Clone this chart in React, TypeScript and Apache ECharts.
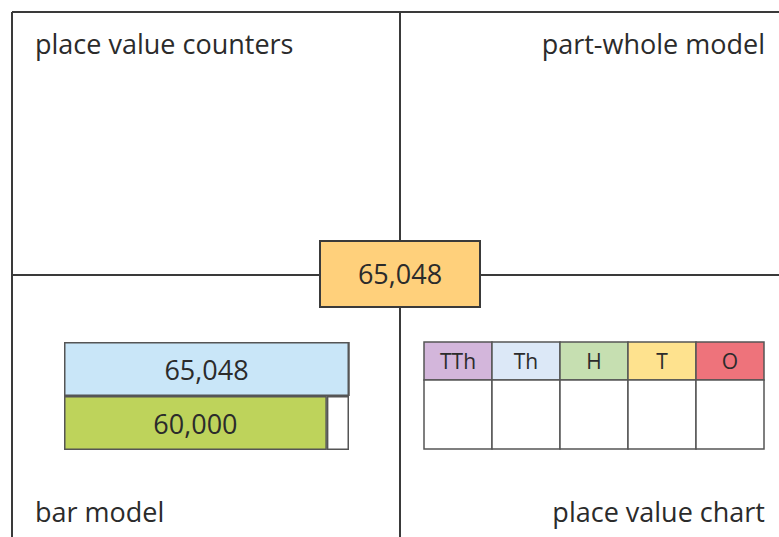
import React, { useEffect, useRef } from "react";
import * as echarts from "echarts";

const centerValue = "65,048";
const quadrantLabels = ["place value counters", "part-whole model", "bar model", "place value chart"];
const barRows = ["whole", "part"];
const barValues = [65048, 60000];
const barRemainder = [0, 5048];
const placeHeaders = ["TTh", "Th", "H", "T", "O"];
const placeColors = ["#D3B6DB", "#DCE8F7", "#C6DFB1", "#FEE28E", "#EE737B"];

const FONT = "'Open Sans', 'Noto Sans', sans-serif";
const INK = "#2b2b2b";
const LINE = "#3a3a3a";

export default function App() {
  const ref = useRef<HTMLDivElement>(null);
  useEffect(() => {
    if (!ref.current) return;
    const chart = echarts.init(ref.current, null, { renderer: "svg" });
    const fmt = (v: number) => v.toLocaleString("en-US");

    const graphics: any[] = [];
    const lw = 2;
    graphics.push(
      { type: "line", shape: { x1: 12, y1: 12, x2: 779, y2: 12 }, style: { stroke: LINE, lineWidth: lw } },
      { type: "line", shape: { x1: 12, y1: 12, x2: 12, y2: 537 }, style: { stroke: LINE, lineWidth: lw } },
      { type: "line", shape: { x1: 400, y1: 12, x2: 400, y2: 537 }, style: { stroke: LINE, lineWidth: lw } },
      { type: "line", shape: { x1: 12, y1: 275, x2: 779, y2: 275 }, style: { stroke: LINE, lineWidth: lw } }
    );
    graphics.push({
      type: "rect",
      shape: { x: 320, y: 241, width: 160, height: 66 },
      style: { fill: "#FFD07B", stroke: LINE, lineWidth: 2 },
      z: 10,
    });
    graphics.push({
      type: "text",
      x: 400,
      y: 273,
      style: { text: centerValue, fill: INK, font: `27px ${FONT}`, align: "center", verticalAlign: "middle" },
      z: 11,
    });
    const labelPos = [
      { x: 35, y: 43, align: "left" },
      { x: 765, y: 43, align: "right" },
      { x: 35, y: 511, align: "left" },
      { x: 765, y: 511, align: "right" },
    ];
    quadrantLabels.forEach((t, i) => {
      graphics.push({
        type: "text",
        x: labelPos[i].x,
        y: labelPos[i].y,
        style: { text: t, fill: INK, font: `27px ${FONT}`, align: labelPos[i].align, verticalAlign: "middle" },
      });
    });
    const px = 424, py = 342, cw = 68, hh = 38, bh = 69;
    placeHeaders.forEach((h, i) => {
      graphics.push({
        type: "rect",
        shape: { x: px + i * cw, y: py, width: cw, height: hh },
        style: { fill: placeColors[i], stroke: "#555", lineWidth: 1.5 },
      });
      graphics.push({
        type: "rect",
        shape: { x: px + i * cw, y: py + hh, width: cw, height: bh },
        style: { fill: "#ffffff", stroke: "#555", lineWidth: 1.5 },
      });
      graphics.push({
        type: "text",
        x: px + i * cw + cw / 2,
        y: py + hh / 2,
        style: { text: h, fill: INK, font: `21px ${FONT}`, align: "center", verticalAlign: "middle" },
      });
    });

    chart.setOption({
      animation: false,
      grid: { left: 64, top: 342, width: 285, height: 108 },
      xAxis: { type: "value", min: 0, max: barValues[0], show: false },
      yAxis: { type: "category", data: barRows, inverse: true, show: false },
      series: [
        {
          type: "bar",
          stack: "b",
          barCategoryGap: 0,
          data: barValues.map((v, i) => ({
            value: v,
            itemStyle: { color: i === 0 ? "#C9E6F8" : "#BED35B" },
          })),
          itemStyle: { borderColor: "#555", borderWidth: 1.5 },
          label: {
            show: true,
            position: "inside",
            formatter: (p: any) => fmt(p.value),
            color: INK,
            fontSize: 27,
            fontFamily: FONT,
          },
        },
        {
          type: "bar",
          stack: "b",
          barCategoryGap: 0,
          data: barRemainder,
          itemStyle: { color: "#ffffff", borderColor: "#555", borderWidth: 1.5 },
        },
      ],
      graphic: graphics,
    });
    return () => chart.dispose();
  }, []);
  return <div ref={ref} style={{ width: 779, height: 537, position: "fixed", left: 0, top: 0, background: "#fff" }} />;
}
